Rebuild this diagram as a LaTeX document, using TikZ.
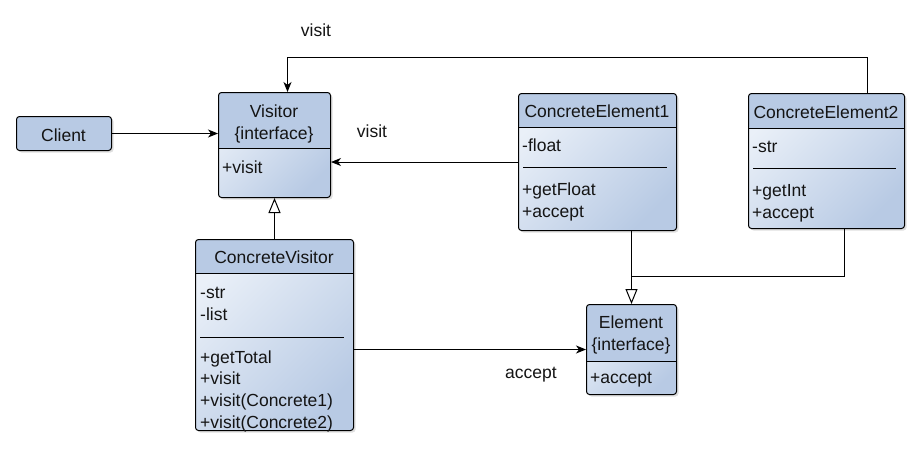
\documentclass[tikz,border=0pt]{standalone}
\usepackage{fontspec}
\setmainfont{Liberation Sans}
\usepackage{xcolor}
\usetikzlibrary{arrows.meta}
\usetikzlibrary{shadows}
\definecolor{headblue}{RGB}{184,202,228}
\definecolor{bodylight}{RGB}{234,240,248}
\definecolor{ink}{RGB}{20,20,20}

\begin{document}
\begin{tikzpicture}[x=1pt,y=-1pt,
  font=\fontsize{17.5}{22}\selectfont, text=ink,
  box/.style={draw, line width=1pt, rounded corners=3pt, inner sep=0pt, anchor=north west,
    shading=axis, top color=bodylight, bottom color=headblue, shading angle=45,
    drop shadow={shadow xshift=2pt, shadow yshift=-2pt, opacity=0.25}},
  member/.style={anchor=base west, inner sep=0pt},
  title/.style={anchor=base, inner sep=0pt},
  link/.style={line width=1pt, -{Stealth[length=10pt, width=8pt, inset=3pt]}},
  isa/.style={line width=1pt, -{Triangle[open, length=15pt, width=12pt, fill=white]}}]
\useasboundingbox (0,0) rectangle (920,455);

% class boxes: name/x/y/width/height/header
\foreach \name/\x/\y/\w/\h/\hh in {client/16/116/95/34/34, visitor/218/92/112/105/56,
    cvisitor/195/239/158/191/34, ce1/518/93/158/137/34,
    ce2/748/93/156/135/35, element/586/304/90/90/57}{
  \node[box, minimum width=\w pt, minimum height=\h pt,
    path picture={
      \fill[headblue] (path picture bounding box.north west) rectangle
        ([yshift=-\hh pt]path picture bounding box.north east);
      \draw[line width=1pt] ([yshift=-\hh pt]path picture bounding box.north west) --
        ([yshift=-\hh pt]path picture bounding box.north east);
    }] (\name) at (\x,\y) {};
}

% titles
\node[title] (client-name) at (63.5,141) {Client};
\node[title] (visitor-name) at (274,117) {Visitor};
\node[title] (visitor-kind) at (274,139) {\{interface\}};
\node[title] (cvisitor-name) at (274,263) {ConcreteVisitor};
\node[title] (ce1-name) at (597,117) {ConcreteElement1};
\node[title] (ce2-name) at (826,118) {ConcreteElement2};
\node[title] (element-name) at (631,328) {Element};
\node[title] (element-kind) at (631,350) {\{interface\}};

% members
\node[member] (visitor-op) at (222,173) {+visit};
\foreach \t [count=\i] in {-str,-list}
  \node[member] (cvisitor-at\i) at (200,276+22*\i) {\t};
\foreach \t [count=\i] in {+getTotal,+visit,+visit(Concrete1),+visit(Concrete2)}
  \node[member] (cvisitor-op\i) at (200,341.3+21.7*\i) {\t};
\node[member] (ce1-at) at (522,151) {-float};
\foreach \t [count=\i] in {+getFloat,+accept}
  \node[member] (ce1-op\i) at (522,173+22*\i) {\t};
\node[member] (ce2-at) at (752,152) {-str};
\foreach \t [count=\i] in {+getInt,+accept}
  \node[member] (ce2-op\i) at (752,174+22*\i) {\t};
\node[member] (element-op) at (590,383) {+accept};

% separators
\draw[line width=1pt] (200,337) -- (344,337);
\draw[line width=1pt] (523,167) -- (667,167);
\draw[line width=1pt] (753,168) -- (896,168);

% connectors
\draw[link] (client.east) -- (client.east -| visitor.west);
\draw[link] (ce1.west) -- (ce1.west -| visitor.east);
\draw[link] ([xshift=41pt]ce2.north) -- ++(0,-36) -| ([xshift=13pt]visitor.north);
\draw[isa] (cvisitor.north) -- (visitor.south);
\draw[link] (element.west -| cvisitor.east) -- (element.west);
\coordinate (join) at (631,276);
\draw[line width=1pt] ([xshift=18pt]ce2.south) |- (join);
\draw[isa] (ce1.south -| element.north) -- (element.north);

% labels
\node[title] (visit-top) at (316,36) {visit};
\node[title] (visit-mid) at (372,137) {visit};
\node[title] (accept-lbl) at (531,378) {accept};
\end{tikzpicture}
\end{document}
